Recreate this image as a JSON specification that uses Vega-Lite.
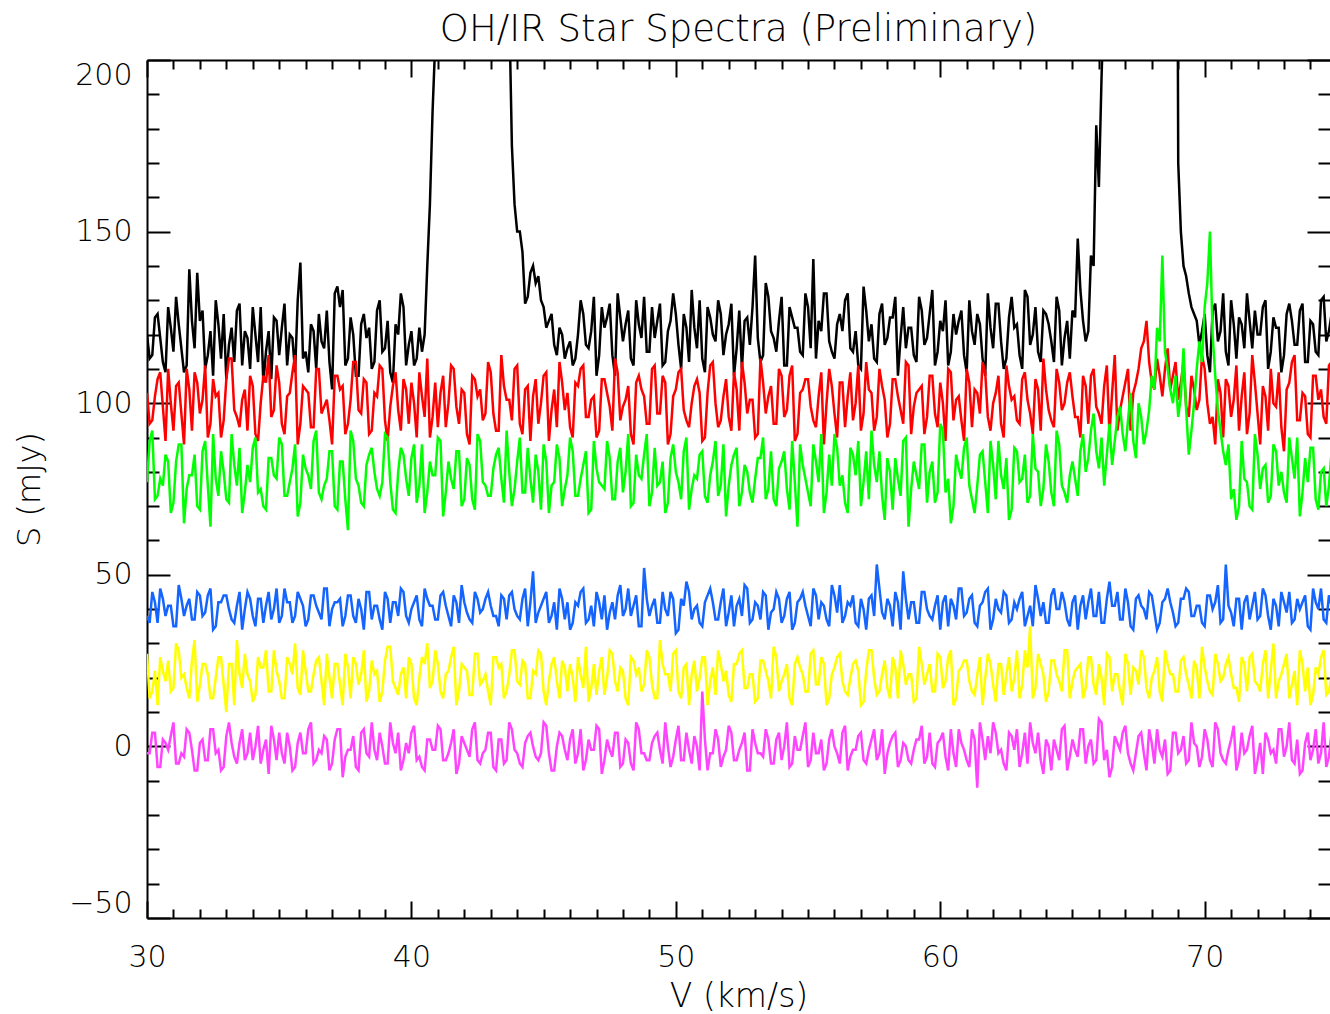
{
"$schema": "https://vega.github.io/schema/vega-lite/v6.json",
"width": 1183, "height": 858,
"autosize": {"type": "none"},
"padding": {"left": 147, "top": 60, "right": 0, "bottom": 96},
"background": "white",
"config": {"view": {"stroke": null}, "font": "DejaVu Sans"},
"title": {"text": "OH/IR Star Spectra (Preliminary)", "fontSize": 37, "font": "DejaVu Sans", "fontWeight": 200, "color": "black", "anchor": "middle", "frame": "group", "offset": 10},
"data": {"values": [
{"v":30.0,"k":120,"r":103,"g":77,"b":38,"y":27,"m":-2},
{"v":30.1,"k":113,"r":94,"g":89,"b":36,"y":14,"m":-2},
{"v":30.2,"k":114,"r":95,"g":92,"b":45,"y":16,"m":4},
{"v":30.3,"k":125,"r":102,"g":72,"b":42,"y":22,"m":4},
{"v":30.4,"k":126,"r":107,"g":73,"b":36,"y":12,"m":-6},
{"v":30.5,"k":119,"r":109,"g":78,"b":46,"y":26,"m":-6},
{"v":30.6,"k":112,"r":99,"g":76,"b":43,"y":22,"m":2},
{"v":30.7,"k":109,"r":89,"g":85,"b":38,"y":19,"m":1},
{"v":30.8,"k":128,"r":110,"g":83,"b":41,"y":25,"m":-1},
{"v":30.9,"k":122,"r":100,"g":68,"b":41,"y":16,"m":3},
{"v":31.0,"k":115,"r":92,"g":71,"b":35,"y":17,"m":7},
{"v":31.1,"k":131,"r":105,"g":83,"b":35,"y":30,"m":-5},
{"v":31.2,"k":123,"r":106,"g":88,"b":47,"y":28,"m":-5},
{"v":31.3,"k":116,"r":97,"g":88,"b":43,"y":20,"m":-2},
{"v":31.4,"k":109,"r":88,"g":65,"b":38,"y":21,"m":-3},
{"v":31.5,"k":111,"r":110,"g":75,"b":41,"y":17,"m":5},
{"v":31.6,"k":139,"r":104,"g":79,"b":43,"y":14,"m":4},
{"v":31.7,"k":124,"r":92,"g":79,"b":37,"y":25,"m":-1},
{"v":31.8,"k":116,"r":109,"g":85,"b":37,"y":31,"m":-7},
{"v":31.9,"k":138,"r":106,"g":70,"b":45,"y":13,"m":-7},
{"v":32.0,"k":124,"r":97,"g":69,"b":44,"y":18,"m":1},
{"v":32.1,"k":127,"r":101,"g":86,"b":38,"y":24,"m":2},
{"v":32.2,"k":110,"r":111,"g":89,"b":39,"y":24,"m":-4},
{"v":32.3,"k":114,"r":90,"g":76,"b":44,"y":21,"m":-4},
{"v":32.4,"k":121,"r":94,"g":64,"b":46,"y":14,"m":5},
{"v":32.5,"k":108,"r":107,"g":91,"b":34,"y":14,"m":5},
{"v":32.6,"k":130,"r":102,"g":78,"b":35,"y":20,"m":-2},
{"v":32.7,"k":123,"r":103,"g":73,"b":42,"y":26,"m":-1},
{"v":32.8,"k":113,"r":90,"g":86,"b":42,"y":26,"m":-7},
{"v":32.9,"k":126,"r":95,"g":80,"b":44,"y":18,"m":-6},
{"v":33.0,"k":107,"r":107,"g":72,"b":44,"y":10,"m":3},
{"v":33.1,"k":117,"r":113,"g":71,"b":40,"y":24,"m":7},
{"v":33.2,"k":122,"r":113,"g":91,"b":37,"y":24,"m":1},
{"v":33.3,"k":112,"r":98,"g":82,"b":36,"y":12,"m":-3},
{"v":33.4,"k":127,"r":96,"g":76,"b":41,"y":31,"m":-5},
{"v":33.5,"k":129,"r":93,"g":87,"b":45,"y":21,"m":1},
{"v":33.6,"k":111,"r":101,"g":68,"b":34,"y":17,"m":5},
{"v":33.7,"k":121,"r":104,"g":74,"b":40,"y":27,"m":-4},
{"v":33.8,"k":119,"r":92,"g":82,"b":45,"y":21,"m":-2},
{"v":33.9,"k":110,"r":108,"g":77,"b":43,"y":19,"m":4},
{"v":34.0,"k":128,"r":105,"g":87,"b":38,"y":13,"m":-4},
{"v":34.1,"k":120,"r":91,"g":90,"b":35,"y":15,"m":0},
{"v":34.2,"k":112,"r":89,"g":74,"b":43,"y":26,"m":6},
{"v":34.3,"k":128,"r":100,"g":75,"b":43,"y":23,"m":-5},
{"v":34.4,"k":106,"r":108,"g":70,"b":36,"y":23,"m":-1},
{"v":34.5,"k":115,"r":106,"g":69,"b":41,"y":28,"m":2},
{"v":34.6,"k":121,"r":114,"g":84,"b":45,"y":16,"m":-8},
{"v":34.7,"k":107,"r":96,"g":84,"b":37,"y":16,"m":6},
{"v":34.8,"k":125,"r":98,"g":79,"b":40,"y":28,"m":2},
{"v":34.9,"k":124,"r":111,"g":78,"b":46,"y":22,"m":-4},
{"v":35.0,"k":114,"r":106,"g":90,"b":36,"y":19,"m":4},
{"v":35.1,"k":122,"r":94,"g":88,"b":38,"y":14,"m":-2},
{"v":35.2,"k":129,"r":91,"g":73,"b":46,"y":14,"m":-5},
{"v":35.3,"k":111,"r":102,"g":73,"b":42,"y":26,"m":4},
{"v":35.4,"k":120,"r":103,"g":77,"b":42,"y":24,"m":0},
{"v":35.5,"k":119,"r":109,"g":81,"b":36,"y":21,"m":-7},
{"v":35.6,"k":109,"r":114,"g":88,"b":38,"y":30,"m":-6},
{"v":35.7,"k":130,"r":88,"g":67,"b":45,"y":17,"m":1},
{"v":35.8,"k":141,"r":94,"g":71,"b":43,"y":15,"m":4},
{"v":35.9,"k":113,"r":105,"g":85,"b":41,"y":28,"m":-2},
{"v":36.0,"k":115,"r":104,"g":81,"b":35,"y":22,"m":-2},
{"v":36.1,"k":109,"r":103,"g":79,"b":37,"y":16,"m":5},
{"v":36.2,"k":123,"r":93,"g":75,"b":44,"y":16,"m":7},
{"v":36.3,"k":121,"r":93,"g":89,"b":44,"y":21,"m":-5},
{"v":36.4,"k":110,"r":110,"g":92,"b":41,"y":25,"m":-4},
{"v":36.5,"k":126,"r":110,"g":74,"b":39,"y":26,"m":-1},
{"v":36.6,"k":118,"r":97,"g":72,"b":37,"y":19,"m":-2},
{"v":36.7,"k":116,"r":99,"g":76,"b":46,"y":12,"m":3},
{"v":36.8,"k":127,"r":101,"g":78,"b":46,"y":27,"m":2},
{"v":36.9,"k":112,"r":95,"g":86,"b":35,"y":20,"m":-7},
{"v":37.0,"k":104,"r":88,"g":86,"b":40,"y":14,"m":-5},
{"v":37.1,"k":132,"r":108,"g":70,"b":42,"y":24,"m":2},
{"v":37.2,"k":134,"r":108,"g":69,"b":42,"y":24,"m":5},
{"v":37.3,"k":128,"r":104,"g":83,"b":43,"y":18,"m":5},
{"v":37.4,"k":133,"r":105,"g":83,"b":35,"y":12,"m":-9},
{"v":37.5,"k":111,"r":91,"g":72,"b":38,"y":27,"m":-3},
{"v":37.6,"k":113,"r":94,"g":63,"b":44,"y":23,"m":-1},
{"v":37.7,"k":125,"r":101,"g":92,"b":44,"y":14,"m":-1},
{"v":37.8,"k":120,"r":112,"g":89,"b":38,"y":26,"m":3},
{"v":37.9,"k":108,"r":112,"g":78,"b":36,"y":24,"m":-6},
{"v":38.0,"k":108,"r":98,"g":76,"b":43,"y":18,"m":-7},
{"v":38.1,"k":123,"r":97,"g":71,"b":40,"y":21,"m":4},
{"v":38.2,"k":126,"r":107,"g":70,"b":34,"y":28,"m":5},
{"v":38.3,"k":119,"r":106,"g":82,"b":45,"y":13,"m":-2},
{"v":38.4,"k":122,"r":91,"g":85,"b":45,"y":16,"m":-3},
{"v":38.5,"k":110,"r":92,"g":87,"b":37,"y":25,"m":7},
{"v":38.6,"k":112,"r":103,"g":80,"b":41,"y":21,"m":-1},
{"v":38.7,"k":127,"r":102,"g":75,"b":41,"y":22,"m":-4},
{"v":38.8,"k":130,"r":111,"g":73,"b":37,"y":13,"m":4},
{"v":38.9,"k":115,"r":110,"g":77,"b":34,"y":16,"m":0},
{"v":39.0,"k":116,"r":95,"g":91,"b":45,"y":25,"m":-5},
{"v":39.1,"k":124,"r":89,"g":90,"b":43,"y":29,"m":-5},
{"v":39.2,"k":109,"r":99,"g":77,"b":36,"y":29,"m":7},
{"v":39.3,"k":106,"r":105,"g":69,"b":42,"y":19,"m":1},
{"v":39.4,"k":123,"r":109,"g":68,"b":42,"y":17,"m":-2},
{"v":39.5,"k":120,"r":98,"g":80,"b":38,"y":15,"m":4},
{"v":39.6,"k":132,"r":92,"g":87,"b":46,"y":21,"m":-7},
{"v":39.7,"k":128,"r":107,"g":85,"b":45,"y":23,"m":-4},
{"v":39.8,"k":111,"r":104,"g":78,"b":38,"y":14,"m":1},
{"v":39.9,"k":117,"r":94,"g":73,"b":36,"y":26,"m":-2},
{"v":40.0,"k":121,"r":106,"g":84,"b":40,"y":24,"m":4},
{"v":40.1,"k":111,"r":100,"g":88,"b":42,"y":14,"m":6},
{"v":40.2,"k":113,"r":90,"g":71,"b":44,"y":12,"m":-4},
{"v":40.3,"k":122,"r":109,"g":76,"b":37,"y":20,"m":-3},
{"v":40.4,"k":115,"r":102,"g":88,"b":35,"y":26,"m":-6},
{"v":40.5,"k":120,"r":96,"g":68,"b":46,"y":24,"m":-7},
{"v":40.6,"k":140,"r":113,"g":74,"b":43,"y":30,"m":2},
{"v":40.7,"k":158,"r":90,"g":83,"b":41,"y":17,"m":2},
{"v":40.8,"k":185,"r":96,"g":79,"b":41,"y":19,"m":-1},
{"v":40.9,"k":205,"r":106,"g":79,"b":37,"y":28,"m":-1},
{"v":41.0,"k":230,"r":93,"g":90,"b":37,"y":24,"m":6},
{"v":41.1,"k":330,"r":103,"g":89,"b":44,"y":16,"m":5},
{"v":41.2,"k":420,"r":108,"g":67,"b":45,"y":14,"m":-4},
{"v":41.3,"k":540,"r":93,"g":74,"b":41,"y":21,"m":-4},
{"v":41.4,"k":650,"r":100,"g":83,"b":38,"y":22,"m":-2},
{"v":41.5,"k":720,"r":111,"g":78,"b":35,"y":26,"m":1},
{"v":41.6,"k":800,"r":110,"g":75,"b":44,"y":29,"m":5},
{"v":41.7,"k":850,"r":99,"g":86,"b":42,"y":12,"m":-8},
{"v":41.8,"k":880,"r":94,"g":86,"b":36,"y":16,"m":-5},
{"v":41.9,"k":870,"r":104,"g":70,"b":47,"y":24,"m":3},
{"v":42.0,"k":860,"r":103,"g":72,"b":42,"y":23,"m":1},
{"v":42.1,"k":800,"r":91,"g":84,"b":39,"y":22,"m":-1},
{"v":42.2,"k":760,"r":88,"g":82,"b":37,"y":15,"m":-3},
{"v":42.3,"k":730,"r":108,"g":72,"b":36,"y":15,"m":5},
{"v":42.4,"k":700,"r":107,"g":69,"b":45,"y":27,"m":7},
{"v":42.5,"k":720,"r":102,"g":91,"b":43,"y":27,"m":-4},
{"v":42.6,"k":740,"r":104,"g":89,"b":39,"y":18,"m":-5},
{"v":42.7,"k":780,"r":95,"g":77,"b":40,"y":19,"m":-2},
{"v":42.8,"k":820,"r":97,"g":76,"b":43,"y":21,"m":-1},
{"v":42.9,"k":850,"r":112,"g":73,"b":45,"y":16,"m":4},
{"v":43.0,"k":860,"r":109,"g":73,"b":41,"y":12,"m":4},
{"v":43.1,"k":780,"r":97,"g":81,"b":38,"y":26,"m":-6},
{"v":43.2,"k":700,"r":92,"g":85,"b":38,"y":26,"m":-7},
{"v":43.3,"k":590,"r":92,"g":87,"b":35,"y":23,"m":2},
{"v":43.4,"k":480,"r":114,"g":78,"b":44,"y":24,"m":2},
{"v":43.5,"k":390,"r":105,"g":71,"b":43,"y":14,"m":-5},
{"v":43.6,"k":300,"r":101,"g":92,"b":37,"y":16,"m":-4},
{"v":43.7,"k":215,"r":101,"g":80,"b":44,"y":21,"m":7},
{"v":43.8,"k":175,"r":95,"g":70,"b":45,"y":28,"m":5},
{"v":43.9,"k":158,"r":110,"g":75,"b":40,"y":28,"m":-1},
{"v":44.0,"k":150,"r":111,"g":83,"b":38,"y":19,"m":-2},
{"v":44.1,"k":150,"r":94,"g":90,"b":37,"y":18,"m":-5},
{"v":44.2,"k":144,"r":91,"g":74,"b":43,"y":25,"m":-6},
{"v":44.3,"k":129,"r":104,"g":74,"b":46,"y":24,"m":1},
{"v":44.4,"k":131,"r":105,"g":87,"b":35,"y":14,"m":3},
{"v":44.5,"k":138,"r":89,"g":78,"b":42,"y":14,"m":4},
{"v":44.6,"k":140,"r":102,"g":71,"b":51,"y":22,"m":0},
{"v":44.7,"k":135,"r":107,"g":85,"b":36,"y":21,"m":-3},
{"v":44.8,"k":137,"r":94,"g":80,"b":39,"y":28,"m":-4},
{"v":44.9,"k":130,"r":100,"g":69,"b":41,"y":27,"m":-2},
{"v":45.0,"k":128,"r":108,"g":88,"b":43,"y":16,"m":7},
{"v":45.1,"k":122,"r":109,"g":83,"b":45,"y":12,"m":6},
{"v":45.2,"k":124,"r":89,"g":68,"b":36,"y":19,"m":-2},
{"v":45.3,"k":126,"r":98,"g":76,"b":38,"y":24,"m":-7},
{"v":45.4,"k":117,"r":104,"g":77,"b":42,"y":26,"m":-7},
{"v":45.5,"k":114,"r":93,"g":88,"b":34,"y":19,"m":0},
{"v":45.6,"k":122,"r":112,"g":84,"b":46,"y":14,"m":4},
{"v":45.7,"k":120,"r":106,"g":70,"b":43,"y":25,"m":3},
{"v":45.8,"k":113,"r":98,"g":75,"b":37,"y":23,"m":-1},
{"v":45.9,"k":116,"r":103,"g":79,"b":42,"y":16,"m":-4},
{"v":46.0,"k":118,"r":93,"g":90,"b":34,"y":24,"m":2},
{"v":46.1,"k":111,"r":90,"g":86,"b":36,"y":20,"m":5},
{"v":46.2,"k":113,"r":106,"g":73,"b":42,"y":13,"m":-5},
{"v":46.3,"k":120,"r":105,"g":73,"b":41,"y":26,"m":-2},
{"v":46.4,"k":130,"r":110,"g":78,"b":45,"y":21,"m":5},
{"v":46.5,"k":126,"r":111,"g":82,"b":46,"y":17,"m":-7},
{"v":46.6,"k":117,"r":96,"g":86,"b":36,"y":29,"m":-4},
{"v":46.7,"k":116,"r":96,"g":68,"b":37,"y":13,"m":2},
{"v":46.8,"k":121,"r":101,"g":69,"b":41,"y":17,"m":-1},
{"v":46.9,"k":131,"r":102,"g":89,"b":35,"y":24,"m":-1},
{"v":47.0,"k":108,"r":90,"g":81,"b":45,"y":15,"m":6},
{"v":47.1,"k":114,"r":92,"g":77,"b":42,"y":22,"m":5},
{"v":47.2,"k":128,"r":107,"g":76,"b":37,"y":26,"m":-8},
{"v":47.3,"k":122,"r":107,"g":75,"b":44,"y":15,"m":-4},
{"v":47.4,"k":125,"r":103,"g":89,"b":34,"y":20,"m":2},
{"v":47.5,"k":129,"r":99,"g":84,"b":39,"y":28,"m":-1},
{"v":47.6,"k":114,"r":92,"g":72,"b":42,"y":27,"m":-3},
{"v":47.7,"k":108,"r":113,"g":72,"b":37,"y":19,"m":4},
{"v":47.8,"k":132,"r":109,"g":83,"b":44,"y":16,"m":4},
{"v":47.9,"k":125,"r":95,"g":87,"b":47,"y":23,"m":-6},
{"v":48.0,"k":118,"r":99,"g":74,"b":38,"y":22,"m":-5},
{"v":48.1,"k":123,"r":101,"g":80,"b":40,"y":14,"m":2},
{"v":48.2,"k":127,"r":105,"g":91,"b":46,"y":12,"m":1},
{"v":48.3,"k":113,"r":91,"g":70,"b":38,"y":26,"m":-5},
{"v":48.4,"k":111,"r":88,"g":71,"b":41,"y":25,"m":-7},
{"v":48.5,"k":130,"r":106,"g":85,"b":44,"y":21,"m":7},
{"v":48.6,"k":123,"r":108,"g":79,"b":35,"y":23,"m":5},
{"v":48.7,"k":119,"r":104,"g":78,"b":35,"y":16,"m":-2},
{"v":48.8,"k":131,"r":102,"g":85,"b":52,"y":18,"m":-2},
{"v":48.9,"k":115,"r":94,"g":91,"b":43,"y":28,"m":-4},
{"v":49.0,"k":115,"r":94,"g":70,"b":38,"y":26,"m":-4},
{"v":49.1,"k":128,"r":110,"g":74,"b":41,"y":18,"m":1},
{"v":49.2,"k":119,"r":111,"g":87,"b":43,"y":14,"m":3},
{"v":49.3,"k":124,"r":97,"g":76,"b":36,"y":14,"m":4},
{"v":49.4,"k":129,"r":97,"g":77,"b":36,"y":31,"m":-1},
{"v":49.5,"k":111,"r":108,"g":83,"b":45,"y":24,"m":-5},
{"v":49.6,"k":112,"r":106,"g":68,"b":40,"y":21,"m":7},
{"v":49.7,"k":121,"r":88,"g":71,"b":38,"y":21,"m":0},
{"v":49.8,"k":124,"r":91,"g":84,"b":45,"y":16,"m":-6},
{"v":49.9,"k":132,"r":102,"g":88,"b":43,"y":27,"m":-3},
{"v":50.0,"k":126,"r":104,"g":80,"b":33,"y":28,"m":2},
{"v":50.1,"k":117,"r":109,"g":77,"b":34,"y":16,"m":6},
{"v":50.2,"k":110,"r":110,"g":72,"b":43,"y":14,"m":-4},
{"v":50.3,"k":126,"r":98,"g":86,"b":41,"y":23,"m":-4},
{"v":50.4,"k":122,"r":95,"g":90,"b":48,"y":24,"m":4},
{"v":50.5,"k":112,"r":93,"g":69,"b":45,"y":12,"m":-1},
{"v":50.6,"k":133,"r":100,"g":75,"b":37,"y":21,"m":-5},
{"v":50.7,"k":122,"r":105,"g":79,"b":40,"y":25,"m":3},
{"v":50.8,"k":116,"r":107,"g":78,"b":41,"y":16,"m":0},
{"v":50.9,"k":130,"r":103,"g":85,"b":36,"y":20,"m":-7},
{"v":51.0,"k":113,"r":89,"g":86,"b":35,"y":26,"m":16},
{"v":51.1,"k":109,"r":90,"g":73,"b":42,"y":26,"m":2},
{"v":51.2,"k":128,"r":103,"g":71,"b":44,"y":12,"m":-7},
{"v":51.3,"k":125,"r":111,"g":79,"b":46,"y":19,"m":-2},
{"v":51.4,"k":120,"r":112,"g":83,"b":42,"y":23,"m":-2},
{"v":51.5,"k":118,"r":100,"g":89,"b":37,"y":15,"m":5},
{"v":51.6,"k":130,"r":93,"g":73,"b":37,"y":28,"m":2},
{"v":51.7,"k":126,"r":95,"g":76,"b":42,"y":24,"m":-6},
{"v":51.8,"k":114,"r":102,"g":88,"b":46,"y":19,"m":-3},
{"v":51.9,"k":120,"r":107,"g":67,"b":35,"y":22,"m":-1},
{"v":52.0,"k":123,"r":96,"g":76,"b":39,"y":15,"m":6},
{"v":52.1,"k":129,"r":92,"g":82,"b":44,"y":13,"m":4},
{"v":52.2,"k":108,"r":109,"g":85,"b":35,"y":24,"m":-4},
{"v":52.3,"k":116,"r":104,"g":87,"b":41,"y":24,"m":-4},
{"v":52.4,"k":127,"r":92,"g":70,"b":43,"y":27,"m":-1},
{"v":52.5,"k":110,"r":112,"g":74,"b":38,"y":28,"m":1},
{"v":52.6,"k":124,"r":106,"g":82,"b":47,"y":17,"m":4},
{"v":52.7,"k":125,"r":97,"g":80,"b":46,"y":17,"m":-7},
{"v":52.8,"k":117,"r":101,"g":74,"b":36,"y":21,"m":-7},
{"v":52.9,"k":128,"r":101,"g":71,"b":37,"y":21,"m":5},
{"v":53.0,"k":143,"r":90,"g":78,"b":42,"y":13,"m":1},
{"v":53.1,"k":119,"r":91,"g":84,"b":41,"y":14,"m":-2},
{"v":53.2,"k":112,"r":113,"g":84,"b":37,"y":25,"m":-2},
{"v":53.3,"k":114,"r":106,"g":90,"b":45,"y":25,"m":-3},
{"v":53.4,"k":135,"r":97,"g":72,"b":44,"y":22,"m":5},
{"v":53.5,"k":131,"r":102,"g":75,"b":34,"y":19,"m":2},
{"v":53.6,"k":121,"r":105,"g":86,"b":39,"y":14,"m":-5},
{"v":53.7,"k":119,"r":94,"g":72,"b":40,"y":29,"m":-5},
{"v":53.8,"k":115,"r":94,"g":70,"b":45,"y":26,"m":2},
{"v":53.9,"k":124,"r":110,"g":81,"b":43,"y":16,"m":4},
{"v":54.0,"k":131,"r":108,"g":83,"b":36,"y":19,"m":-4},
{"v":54.1,"k":111,"r":96,"g":86,"b":38,"y":21,"m":0},
{"v":54.2,"k":111,"r":98,"g":75,"b":43,"y":24,"m":7},
{"v":54.3,"k":128,"r":108,"g":69,"b":45,"y":14,"m":-6},
{"v":54.4,"k":125,"r":111,"g":89,"b":34,"y":12,"m":-5},
{"v":54.5,"k":122,"r":89,"g":77,"b":36,"y":24,"m":3},
{"v":54.6,"k":122,"r":91,"g":64,"b":42,"y":26,"m":-1},
{"v":54.7,"k":115,"r":103,"g":88,"b":43,"y":23,"m":-1},
{"v":54.8,"k":114,"r":104,"g":82,"b":45,"y":21,"m":3},
{"v":54.9,"k":132,"r":107,"g":78,"b":41,"y":16,"m":7},
{"v":55.0,"k":128,"r":107,"g":74,"b":38,"y":16,"m":-6},
{"v":55.1,"k":116,"r":99,"g":70,"b":35,"y":27,"m":-4},
{"v":55.2,"k":142,"r":95,"g":88,"b":46,"y":28,"m":4},
{"v":55.3,"k":113,"r":93,"g":83,"b":44,"y":18,"m":-2},
{"v":55.4,"k":124,"r":102,"g":77,"b":37,"y":18,"m":-2},
{"v":55.5,"k":121,"r":109,"g":91,"b":42,"y":26,"m":2},
{"v":55.6,"k":132,"r":88,"g":68,"b":41,"y":24,"m":-7},
{"v":55.7,"k":132,"r":100,"g":74,"b":37,"y":12,"m":-5},
{"v":55.8,"k":118,"r":110,"g":85,"b":35,"y":14,"m":2},
{"v":55.9,"k":115,"r":105,"g":76,"b":47,"y":21,"m":5},
{"v":56.0,"k":113,"r":97,"g":91,"b":44,"y":23,"m":0},
{"v":56.1,"k":123,"r":90,"g":87,"b":39,"y":26,"m":-2},
{"v":56.2,"k":126,"r":106,"g":76,"b":47,"y":27,"m":-5},
{"v":56.3,"k":121,"r":106,"g":79,"b":36,"y":19,"m":4},
{"v":56.4,"k":130,"r":93,"g":71,"b":38,"y":16,"m":6},
{"v":56.5,"k":132,"r":102,"g":68,"b":42,"y":15,"m":-7},
{"v":56.6,"k":116,"r":109,"g":87,"b":41,"y":20,"m":-3},
{"v":56.7,"k":115,"r":95,"g":85,"b":44,"y":24,"m":-1},
{"v":56.8,"k":121,"r":100,"g":79,"b":36,"y":25,"m":-1},
{"v":56.9,"k":111,"r":111,"g":89,"b":35,"y":22,"m":3},
{"v":57.0,"k":110,"r":92,"g":70,"b":43,"y":12,"m":4},
{"v":57.1,"k":134,"r":97,"g":77,"b":40,"y":13,"m":-4},
{"v":57.2,"k":127,"r":112,"g":86,"b":34,"y":22,"m":-5},
{"v":57.3,"k":118,"r":104,"g":72,"b":43,"y":28,"m":-1},
{"v":57.4,"k":123,"r":103,"g":92,"b":44,"y":28,"m":2},
{"v":57.5,"k":113,"r":92,"g":82,"b":38,"y":20,"m":5},
{"v":57.6,"k":112,"r":96,"g":77,"b":53,"y":15,"m":-4},
{"v":57.7,"k":126,"r":110,"g":86,"b":46,"y":16,"m":-2},
{"v":57.8,"k":129,"r":105,"g":73,"b":39,"y":21,"m":5},
{"v":57.9,"k":117,"r":101,"g":66,"b":37,"y":25,"m":-8},
{"v":58.0,"k":119,"r":90,"g":84,"b":43,"y":17,"m":-2},
{"v":58.1,"k":125,"r":94,"g":80,"b":41,"y":14,"m":1},
{"v":58.2,"k":125,"r":107,"g":69,"b":35,"y":26,"m":3},
{"v":58.3,"k":131,"r":107,"g":84,"b":45,"y":23,"m":4},
{"v":58.4,"k":108,"r":102,"g":78,"b":42,"y":14,"m":-6},
{"v":58.5,"k":119,"r":98,"g":73,"b":34,"y":28,"m":-4},
{"v":58.6,"k":128,"r":94,"g":89,"b":51,"y":24,"m":1},
{"v":58.7,"k":116,"r":112,"g":90,"b":43,"y":18,"m":0},
{"v":58.8,"k":122,"r":111,"g":64,"b":37,"y":21,"m":-4},
{"v":58.9,"k":122,"r":91,"g":75,"b":42,"y":21,"m":-5},
{"v":59.0,"k":114,"r":99,"g":83,"b":42,"y":13,"m":-1},
{"v":59.1,"k":112,"r":103,"g":79,"b":36,"y":14,"m":2},
{"v":59.2,"k":131,"r":104,"g":75,"b":36,"y":29,"m":2},
{"v":59.3,"k":127,"r":105,"g":88,"b":45,"y":24,"m":6},
{"v":59.4,"k":117,"r":91,"g":88,"b":45,"y":18,"m":-5},
{"v":59.5,"k":119,"r":96,"g":71,"b":40,"y":21,"m":-3},
{"v":59.6,"k":126,"r":108,"g":80,"b":38,"y":24,"m":4},
{"v":59.7,"k":133,"r":108,"g":83,"b":37,"y":16,"m":-5},
{"v":59.8,"k":111,"r":97,"g":71,"b":41,"y":16,"m":-6},
{"v":59.9,"k":115,"r":93,"g":74,"b":44,"y":27,"m":1},
{"v":60.0,"k":124,"r":106,"g":94,"b":34,"y":26,"m":2},
{"v":60.1,"k":121,"r":100,"g":92,"b":42,"y":17,"m":4},
{"v":60.2,"k":130,"r":89,"g":74,"b":44,"y":19,"m":-3},
{"v":60.3,"k":111,"r":110,"g":78,"b":35,"y":26,"m":-7},
{"v":60.4,"k":115,"r":109,"g":65,"b":43,"y":28,"m":5},
{"v":60.5,"k":126,"r":95,"g":70,"b":41,"y":12,"m":-2},
{"v":60.6,"k":120,"r":101,"g":85,"b":37,"y":14,"m":-6},
{"v":60.7,"k":124,"r":102,"g":81,"b":46,"y":22,"m":5},
{"v":60.8,"k":127,"r":95,"g":78,"b":46,"y":23,"m":1},
{"v":60.9,"k":114,"r":89,"g":87,"b":38,"y":25,"m":-1},
{"v":61.0,"k":109,"r":110,"g":90,"b":39,"y":25,"m":-4},
{"v":61.1,"k":130,"r":106,"g":76,"b":43,"y":19,"m":-6},
{"v":61.2,"k":121,"r":93,"g":72,"b":44,"y":16,"m":5},
{"v":61.3,"k":117,"r":104,"g":68,"b":36,"y":15,"m":2},
{"v":61.4,"k":126,"r":103,"g":76,"b":35,"y":21,"m":-12},
{"v":61.5,"k":123,"r":97,"g":85,"b":41,"y":26,"m":7},
{"v":61.6,"k":113,"r":112,"g":86,"b":42,"y":12,"m":2},
{"v":61.7,"k":108,"r":109,"g":77,"b":45,"y":20,"m":-4},
{"v":61.8,"k":132,"r":96,"g":68,"b":46,"y":27,"m":3},
{"v":61.9,"k":122,"r":92,"g":89,"b":34,"y":24,"m":-2},
{"v":62.0,"k":116,"r":100,"g":82,"b":37,"y":18,"m":7},
{"v":62.1,"k":129,"r":103,"g":72,"b":43,"y":13,"m":4},
{"v":62.2,"k":129,"r":108,"g":89,"b":40,"y":24,"m":-2},
{"v":62.3,"k":118,"r":94,"g":79,"b":39,"y":24,"m":-1},
{"v":62.4,"k":110,"r":90,"g":75,"b":45,"y":15,"m":-5},
{"v":62.5,"k":113,"r":111,"g":84,"b":44,"y":21,"m":-7},
{"v":62.6,"k":125,"r":105,"g":66,"b":36,"y":26,"m":4},
{"v":62.7,"k":131,"r":101,"g":69,"b":37,"y":16,"m":3},
{"v":62.8,"k":122,"r":102,"g":87,"b":42,"y":20,"m":-1},
{"v":62.9,"k":123,"r":95,"g":86,"b":40,"y":28,"m":5},
{"v":63.0,"k":114,"r":94,"g":77,"b":43,"y":14,"m":-6},
{"v":63.1,"k":110,"r":107,"g":78,"b":45,"y":18,"m":-2},
{"v":63.2,"k":133,"r":109,"g":85,"b":35,"y":28,"m":4},
{"v":63.3,"k":131,"r":101,"g":71,"b":38,"y":23,"m":-5},
{"v":63.4,"k":117,"r":97,"g":73,"b":41,"y":35,"m":7},
{"v":63.5,"k":120,"r":91,"g":91,"b":35,"y":14,"m":1},
{"v":63.6,"k":128,"r":107,"g":81,"b":47,"y":17,"m":-2},
{"v":63.7,"k":115,"r":104,"g":80,"b":43,"y":27,"m":4},
{"v":63.8,"k":112,"r":92,"g":70,"b":38,"y":24,"m":-4},
{"v":63.9,"k":127,"r":113,"g":75,"b":42,"y":21,"m":-8},
{"v":64.0,"k":126,"r":104,"g":88,"b":36,"y":13,"m":2},
{"v":64.1,"k":123,"r":98,"g":83,"b":36,"y":16,"m":0},
{"v":64.2,"k":118,"r":95,"g":74,"b":44,"y":25,"m":-7},
{"v":64.3,"k":112,"r":93,"g":70,"b":46,"y":25,"m":2},
{"v":64.4,"k":131,"r":110,"g":92,"b":40,"y":21,"m":-1},
{"v":64.5,"k":127,"r":106,"g":88,"b":40,"y":19,"m":-4},
{"v":64.6,"k":111,"r":98,"g":76,"b":45,"y":16,"m":5},
{"v":64.7,"k":119,"r":100,"g":74,"b":42,"y":28,"m":6},
{"v":64.8,"k":124,"r":106,"g":71,"b":37,"y":28,"m":-7},
{"v":64.9,"k":113,"r":109,"g":79,"b":35,"y":14,"m":-3},
{"v":65.0,"k":127,"r":102,"g":83,"b":42,"y":19,"m":2},
{"v":65.1,"k":125,"r":96,"g":78,"b":44,"y":22,"m":-1},
{"v":65.2,"k":148,"r":96,"g":73,"b":34,"y":23,"m":-3},
{"v":65.3,"k":133,"r":90,"g":86,"b":41,"y":24,"m":5},
{"v":65.4,"k":124,"r":108,"g":91,"b":44,"y":14,"m":5},
{"v":65.5,"k":118,"r":105,"g":80,"b":37,"y":17,"m":-5},
{"v":65.6,"k":121,"r":94,"g":84,"b":42,"y":26,"m":0},
{"v":65.7,"k":143,"r":108,"g":92,"b":46,"y":26,"m":2},
{"v":65.8,"k":140,"r":110,"g":97,"b":38,"y":18,"m":-5},
{"v":65.9,"k":181,"r":99,"g":86,"b":38,"y":15,"m":-4},
{"v":66.0,"k":163,"r":97,"g":81,"b":45,"y":24,"m":8},
{"v":66.1,"k":195,"r":94,"g":90,"b":36,"y":20,"m":7},
{"v":66.2,"k":220,"r":105,"g":76,"b":36,"y":12,"m":-4},
{"v":66.3,"k":330,"r":111,"g":85,"b":43,"y":27,"m":-1},
{"v":66.4,"k":500,"r":91,"g":94,"b":48,"y":26,"m":-9},
{"v":66.5,"k":640,"r":103,"g":82,"b":41,"y":16,"m":-6},
{"v":66.6,"k":760,"r":114,"g":89,"b":41,"y":21,"m":3},
{"v":66.7,"k":820,"r":92,"g":96,"b":45,"y":21,"m":1},
{"v":66.8,"k":880,"r":98,"g":99,"b":37,"y":16,"m":-1},
{"v":66.9,"k":890,"r":102,"g":91,"b":37,"y":12,"m":4},
{"v":67.0,"k":900,"r":106,"g":86,"b":46,"y":27,"m":6},
{"v":67.1,"k":870,"r":110,"g":95,"b":42,"y":24,"m":-2},
{"v":67.2,"k":850,"r":92,"g":103,"b":35,"y":15,"m":-5},
{"v":67.3,"k":830,"r":103,"g":89,"b":34,"y":23,"m":-7},
{"v":67.4,"k":820,"r":106,"g":84,"b":43,"y":22,"m":-2},
{"v":67.5,"k":840,"r":110,"g":100,"b":44,"y":18,"m":3},
{"v":67.6,"k":860,"r":116,"g":96,"b":41,"y":28,"m":4},
{"v":67.7,"k":870,"r":118,"g":88,"b":40,"y":26,"m":-2},
{"v":67.8,"k":880,"r":124,"g":92,"b":37,"y":17,"m":-7},
{"v":67.9,"k":890,"r":112,"g":98,"b":45,"y":14,"m":5},
{"v":68.0,"k":900,"r":106,"g":108,"b":44,"y":20,"m":1},
{"v":68.1,"k":870,"r":104,"g":104,"b":39,"y":22,"m":-5},
{"v":68.2,"k":850,"r":113,"g":122,"b":34,"y":26,"m":5},
{"v":68.3,"k":810,"r":108,"g":118,"b":36,"y":16,"m":-1},
{"v":68.4,"k":780,"r":102,"g":143,"b":42,"y":13,"m":-3},
{"v":68.5,"k":740,"r":110,"g":115,"b":43,"y":28,"m":2},
{"v":68.6,"k":700,"r":116,"g":110,"b":46,"y":24,"m":-8},
{"v":68.7,"k":650,"r":104,"g":104,"b":42,"y":21,"m":-7},
{"v":68.8,"k":600,"r":108,"g":100,"b":39,"y":21,"m":4},
{"v":68.9,"k":400,"r":112,"g":108,"b":35,"y":16,"m":4},
{"v":69.0,"k":170,"r":101,"g":96,"b":36,"y":16,"m":-2},
{"v":69.1,"k":150,"r":106,"g":102,"b":43,"y":25,"m":-1},
{"v":69.2,"k":140,"r":112,"g":116,"b":43,"y":26,"m":3},
{"v":69.3,"k":137,"r":99,"g":98,"b":46,"y":21,"m":-5},
{"v":69.4,"k":132,"r":96,"g":85,"b":45,"y":18,"m":-4},
{"v":69.5,"k":128,"r":108,"g":92,"b":38,"y":14,"m":7},
{"v":69.6,"k":126,"r":104,"g":100,"b":38,"y":25,"m":1},
{"v":69.7,"k":124,"r":98,"g":110,"b":41,"y":23,"m":0},
{"v":69.8,"k":117,"r":101,"g":118,"b":41,"y":14,"m":-6},
{"v":69.9,"k":121,"r":114,"g":112,"b":36,"y":29,"m":-3},
{"v":70.0,"k":126,"r":110,"g":128,"b":35,"y":23,"m":5},
{"v":70.1,"k":114,"r":100,"g":135,"b":44,"y":19,"m":2},
{"v":70.2,"k":109,"r":94,"g":150,"b":44,"y":16,"m":-4},
{"v":70.3,"k":127,"r":96,"g":120,"b":40,"y":15,"m":-6},
{"v":70.4,"k":129,"r":88,"g":108,"b":42,"y":27,"m":7},
{"v":70.5,"k":118,"r":107,"g":98,"b":47,"y":24,"m":5},
{"v":70.6,"k":121,"r":103,"g":92,"b":36,"y":19,"m":-2},
{"v":70.7,"k":132,"r":90,"g":86,"b":37,"y":20,"m":-4},
{"v":70.8,"k":115,"r":107,"g":82,"b":53,"y":24,"m":-5},
{"v":70.9,"k":111,"r":105,"g":88,"b":41,"y":26,"m":-1},
{"v":71.0,"k":130,"r":96,"g":72,"b":39,"y":21,"m":2},
{"v":71.1,"k":123,"r":101,"g":75,"b":35,"y":17,"m":6},
{"v":71.2,"k":113,"r":111,"g":66,"b":43,"y":17,"m":-7},
{"v":71.3,"k":125,"r":92,"g":70,"b":43,"y":13,"m":-4},
{"v":71.4,"k":123,"r":102,"g":89,"b":34,"y":26,"m":4},
{"v":71.5,"k":116,"r":109,"g":78,"b":42,"y":24,"m":-2},
{"v":71.6,"k":132,"r":91,"g":77,"b":44,"y":16,"m":-1},
{"v":71.7,"k":124,"r":97,"g":70,"b":37,"y":26,"m":3},
{"v":71.8,"k":116,"r":114,"g":69,"b":41,"y":27,"m":6},
{"v":71.9,"k":127,"r":106,"g":91,"b":45,"y":19,"m":-8},
{"v":72.0,"k":120,"r":97,"g":85,"b":37,"y":18,"m":-4},
{"v":72.1,"k":120,"r":88,"g":75,"b":38,"y":16,"m":1},
{"v":72.2,"k":128,"r":105,"g":81,"b":46,"y":24,"m":-8},
{"v":72.3,"k":130,"r":102,"g":82,"b":44,"y":28,"m":4},
{"v":72.4,"k":110,"r":92,"g":71,"b":38,"y":14,"m":2},
{"v":72.5,"k":115,"r":110,"g":73,"b":34,"y":22,"m":-2},
{"v":72.6,"k":125,"r":100,"g":88,"b":43,"y":30,"m":-1},
{"v":72.7,"k":122,"r":99,"g":86,"b":41,"y":14,"m":-5},
{"v":72.8,"k":122,"r":109,"g":76,"b":35,"y":19,"m":5},
{"v":72.9,"k":109,"r":93,"g":80,"b":45,"y":21,"m":5},
{"v":73.0,"k":114,"r":86,"g":74,"b":42,"y":24,"m":-3},
{"v":73.1,"k":126,"r":104,"g":71,"b":39,"y":27,"m":0},
{"v":73.2,"k":129,"r":106,"g":90,"b":45,"y":14,"m":7},
{"v":73.3,"k":124,"r":112,"g":84,"b":36,"y":18,"m":-4},
{"v":73.4,"k":117,"r":114,"g":78,"b":37,"y":22,"m":-5},
{"v":73.5,"k":117,"r":95,"g":90,"b":43,"y":12,"m":2},
{"v":73.6,"k":127,"r":95,"g":67,"b":40,"y":28,"m":-8},
{"v":73.7,"k":129,"r":103,"g":74,"b":42,"y":24,"m":-7},
{"v":73.8,"k":112,"r":102,"g":84,"b":44,"y":16,"m":1},
{"v":73.9,"k":112,"r":91,"g":77,"b":35,"y":23,"m":4},
{"v":74.0,"k":124,"r":90,"g":87,"b":34,"y":12,"m":-4},
{"v":74.1,"k":123,"r":108,"g":87,"b":46,"y":15,"m":-1},
{"v":74.2,"k":115,"r":108,"g":72,"b":42,"y":23,"m":5},
{"v":74.3,"k":114,"r":101,"g":69,"b":40,"y":21,"m":-5},
{"v":74.4,"k":130,"r":104,"g":80,"b":46,"y":26,"m":-2},
{"v":74.5,"k":131,"r":96,"g":81,"b":37,"y":28,"m":7},
{"v":74.6,"k":118,"r":94,"g":70,"b":36,"y":15,"m":-6},
{"v":74.7,"k":121,"r":111,"g":76,"b":44,"y":16,"m":-3},
{"v":74.8,"k":126,"r":112,"g":86,"b":41,"y":21,"m":4}
]},
"transform": [{"fold": ["k","r","g","b","y","m"], "as": ["series","S"]}],
"layer": [
{
"mark": {"type": "line", "clip": true, "strokeWidth": 2.5},
"encoding": {
"x": {"field": "v", "type": "quantitative",
 "scale": {"domain": [30, 74.74], "nice": false, "zero": false},
 "axis": {"orient": "bottom", "values": [30,31,32,33,34,35,36,37,38,39,40,41,42,43,44,45,46,47,48,49,50,51,52,53,54,55,56,57,58,59,60,61,62,63,64,65,66,67,68,69,70,71,72,73,74],
  "labelExpr": "datum.value % 10 === 0 ? datum.label : ''",
  "tickSize": {"condition": {"test": "datum.value % 10 === 0", "value": -17}, "value": -9},
  "tickWidth": 2, "tickColor": "black", "domainColor": "black", "domainWidth": 2,
  "labelFont": "DejaVu Sans", "labelFontWeight": 200, "labelFontSize": 30, "labelColor": "black", "labelPadding": 41, "labelOverlap": false, "labelFlush": false,
  "grid": false, "title": "V (km/s)", "titleFont": "DejaVu Sans", "titleFontWeight": 200, "titleFontSize": 33, "titleColor": "black", "titlePadding": 0}},
"y": {"field": "S", "type": "quantitative",
 "scale": {"domain": [-50, 200], "nice": false, "zero": false},
 "axis": {"orient": "left", "values": [-50,-40,-30,-20,-10,0,10,20,30,40,50,60,70,80,90,100,110,120,130,140,150,160,170,180,190,200],
  "labelExpr": "datum.value % 50 === 0 ? datum.label : ''",
  "tickSize": {"condition": {"test": "datum.value % 50 === 0", "value": -23}, "value": -12},
  "tickWidth": 2, "tickColor": "black", "domainColor": "black", "domainWidth": 2,
  "labelFont": "DejaVu Sans", "labelFontWeight": 200, "labelFontSize": 30, "labelColor": "black", "labelPadding": 38, "labelOverlap": false, "labelFlush": true,
  "grid": false, "title": "S (mJy)", "titleFont": "DejaVu Sans", "titleFontWeight": 200, "titleFontSize": 32, "titleColor": "black", "titlePadding": 22}},
"color": {"field": "series", "type": "nominal",
 "scale": {"domain": ["k","r","g","b","y","m"], "range": ["#000000","#ff0000","#00ff00","#1464ff","#ffff00","#ff44ff"]},
 "legend": null}
}
},
{
"mark": {"type": "point", "opacity": 0, "clip": true},
"encoding": {
"x": {"field": "v", "type": "quantitative",
 "scale": {"domain": [30, 74.74], "nice": false, "zero": false},
 "axis": {"orient": "top", "values": [30,31,32,33,34,35,36,37,38,39,40,41,42,43,44,45,46,47,48,49,50,51,52,53,54,55,56,57,58,59,60,61,62,63,64,65,66,67,68,69,70,71,72,73,74],
  "labels": false, "title": null, "grid": false,
  "tickSize": {"condition": {"test": "datum.value % 10 === 0", "value": -17}, "value": -9},
  "tickWidth": 2, "tickColor": "black", "domainColor": "black", "domainWidth": 2}},
"y": {"field": "S", "type": "quantitative",
 "scale": {"domain": [-50, 200], "nice": false, "zero": false},
 "axis": {"orient": "right", "values": [-50,-40,-30,-20,-10,0,10,20,30,40,50,60,70,80,90,100,110,120,130,140,150,160,170,180,190,200],
  "labels": false, "title": null, "grid": false, "domain": false,
  "tickSize": {"condition": {"test": "datum.value % 50 === 0", "value": -23}, "value": -12},
  "tickWidth": 2, "tickColor": "black"}}
}
}
],
"resolve": {"scale": {"x": "independent", "y": "independent"}}
}
